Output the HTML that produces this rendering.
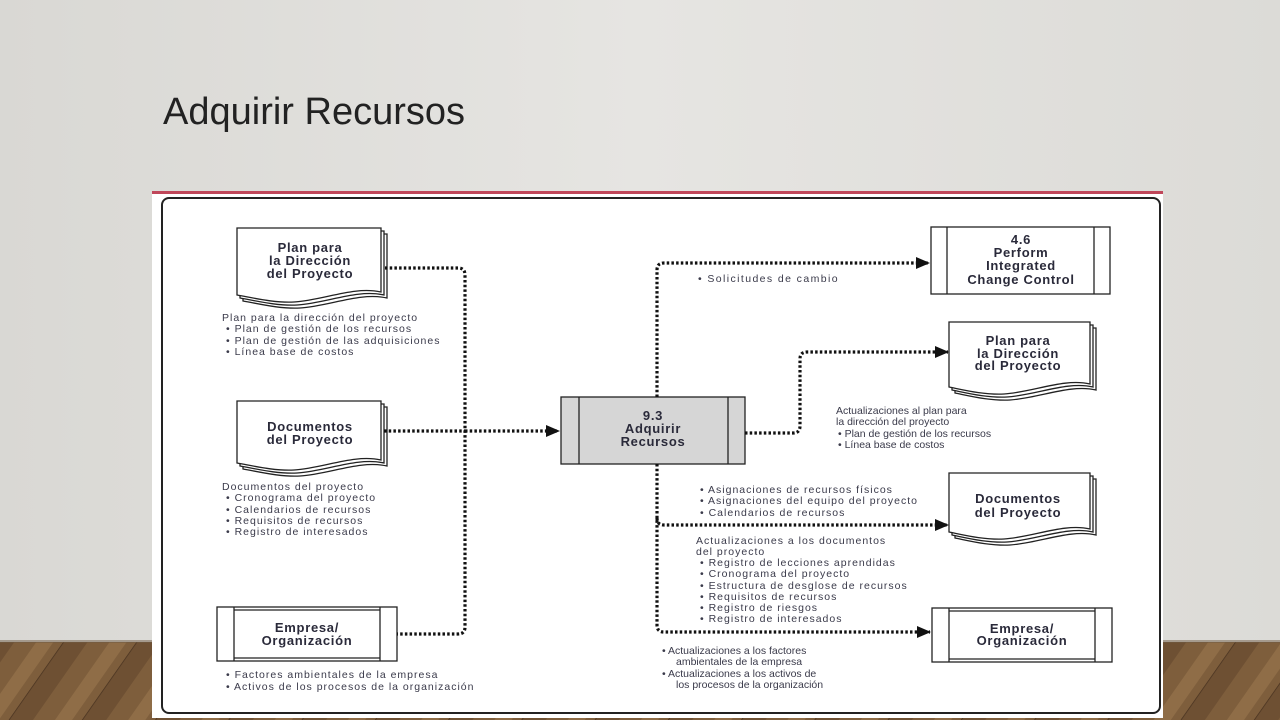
<!DOCTYPE html>
<html><head><meta charset="utf-8"><style>
html,body{margin:0;padding:0;width:1280px;height:720px;overflow:hidden}
body{background:linear-gradient(90deg,#d9d8d4 0%,#e6e5e2 50%,#dcdbd7 100%);font-family:"Liberation Sans",sans-serif}
</style></head><body>
<svg width="1280" height="720" viewBox="0 0 1280 720" xmlns="http://www.w3.org/2000/svg" style="position:absolute;left:0;top:0">
<defs>
<pattern id="wood" width="60" height="80" patternUnits="userSpaceOnUse" patternTransform="rotate(35)">
<rect width="60" height="80" fill="#7e5e3c"/>
<rect x="0" width="20" height="80" fill="#6e5033"/>
<rect x="38" width="14" height="80" fill="#8f6d47"/>
<line x1="0" y1="0" x2="0" y2="80" stroke="#4a3320" stroke-width="1.5"/>
</pattern>
<marker id="ar" markerWidth="14" markerHeight="12" refX="13" refY="6" orient="auto" markerUnits="userSpaceOnUse"><path d="M0,0 L14,6 L0,12 Z" fill="#111"/></marker>
</defs>
<rect x="0" y="642" width="1280" height="78" fill="url(#wood)"/>
<rect x="0" y="640" width="1280" height="3" fill="#6e5a44" opacity=".5"/>
<text x="163" y="124" font-size="38" fill="#222" font-family="Liberation Sans,sans-serif">Adquirir Recursos</text>
<rect x="152" y="192" width="1011" height="526" fill="#fff"/>
<rect x="152" y="191" width="1011" height="3" fill="#c0475a"/>
<rect x="162" y="198" width="998" height="515" rx="7" fill="none" stroke="#222" stroke-width="2"/>

<g stroke="#222" stroke-width="1.3" fill="#fff">
<path d="M243,234 H387 V298 C360,292 330,306 300,308 C280,309 260,304 243,301 Z"/>
<path d="M240,231 H384 V295 C357,289 327,303 297,305 C277,306 257,301 240,298 Z"/>
<path d="M237,228 H381 V292 C354,286 324,300 294,302 C274,303 254,298 237,295 Z"/>
<path d="M243,407 H387 V466 C360,460 330,474 300,476 C280,477 260,472 243,469 Z"/>
<path d="M240,404 H384 V463 C357,457 327,471 297,473 C277,474 257,469 240,466 Z"/>
<path d="M237,401 H381 V460 C354,454 324,468 294,470 C274,471 254,466 237,463 Z"/>
<path d="M955,328 H1096 V390 C1070,384 1040,398 1010,400 C990,401 970,396 955,393 Z"/>
<path d="M952,325 H1093 V387 C1067,381 1037,395 1007,397 C987,398 967,393 952,390 Z"/>
<path d="M949,322 H1090 V384 C1064,378 1034,392 1004,394 C984,395 964,390 949,387 Z"/>
<path d="M955,479 H1096 V535 C1070,529 1040,543 1010,545 C990,546 970,541 955,538 Z"/>
<path d="M952,476 H1093 V532 C1067,526 1037,540 1007,542 C987,543 967,538 952,535 Z"/>
<path d="M949,473 H1090 V529 C1064,523 1034,537 1004,539 C984,540 964,535 949,532 Z"/>
<rect x="217" y="607" width="180" height="54"/>
<line x1="234" y1="607" x2="234" y2="661"/><line x1="380" y1="607" x2="380" y2="661"/>
<line x1="234" y1="610" x2="380" y2="610"/><line x1="234" y1="658" x2="380" y2="658"/>
<rect x="932" y="608" width="180" height="54"/>
<line x1="949" y1="608" x2="949" y2="662"/><line x1="1095" y1="608" x2="1095" y2="662"/>
<line x1="949" y1="611" x2="1095" y2="611"/><line x1="949" y1="659" x2="1095" y2="659"/>
<rect x="931" y="227" width="179" height="67"/>
<line x1="947" y1="227" x2="947" y2="294"/><line x1="1094" y1="227" x2="1094" y2="294"/>
<rect x="561" y="397" width="184" height="67" fill="#d6d6d6"/>
<line x1="579" y1="397" x2="579" y2="464"/><line x1="728" y1="397" x2="728" y2="464"/>
</g>

<g fill="none" stroke="#111" stroke-width="3.2" stroke-dasharray="2.5 2.2">
<path d="M385,268 H458 Q465,268 465,275 V627 Q465,634 458,634 H397"/>
<path d="M384,431 H465"/>
<path d="M465,431 H559" marker-end="url(#ar)"/>
<path d="M657,397 V270 Q657,263 664,263 H929" marker-end="url(#ar)"/>
<path d="M745,433 H793 Q800,433 800,426 V359 Q800,352 807,352 H948" marker-end="url(#ar)"/>
<path d="M657,464 V625 Q657,632 664,632 H930" marker-end="url(#ar)"/>
<path d="M657,518 Q657,525 664,525 H948" marker-end="url(#ar)"/>
</g>

<g font-family="Liberation Sans,sans-serif" font-weight="bold" font-size="13" letter-spacing="0.7" fill="#2a2a3a" text-anchor="middle">
<text x="310" y="252">Plan para</text><text x="310" y="265">la Dirección</text><text x="310" y="278">del Proyecto</text>
<text x="310" y="431">Documentos</text><text x="310" y="444">del Proyecto</text>
<text x="307" y="632">Empresa/</text><text x="307" y="645">Organización</text>
<text x="653" y="420">9.3</text><text x="653" y="433">Adquirir</text><text x="653" y="446">Recursos</text>
<text x="1021" y="244">4.6</text><text x="1021" y="257">Perform</text><text x="1021" y="270">Integrated</text><text x="1021" y="284">Change Control</text>
<text x="1018" y="345">Plan para</text><text x="1018" y="358">la Dirección</text><text x="1018" y="370">del Proyecto</text>
<text x="1018" y="503">Documentos</text><text x="1018" y="517">del Proyecto</text>
<text x="1022" y="633">Empresa/</text><text x="1022" y="645">Organización</text>
</g>

<g font-family="Liberation Sans,sans-serif" font-size="10.5" fill="#3a3a4a">
<g letter-spacing="1">
<text x="222" y="321">Plan para la dirección del proyecto</text>
<text x="226" y="332">•  Plan de gestión de los recursos</text>
<text x="226" y="344">•  Plan de gestión de las adquisiciones</text>
<text x="226" y="355">•  Línea base de costos</text>
<text x="222" y="490">Documentos del proyecto</text>
<text x="226" y="501">•  Cronograma del proyecto</text>
<text x="226" y="513">•  Calendarios de recursos</text>
<text x="226" y="524">•  Requisitos de recursos</text>
<text x="226" y="535">•  Registro de interesados</text>
<text x="226" y="678">•  Factores ambientales de la empresa</text>
<text x="226" y="690">•  Activos de los procesos de la organización</text>
<text x="698" y="282" letter-spacing="1.4">•  Solicitudes de cambio</text>
<text x="700" y="493">•  Asignaciones de recursos físicos</text>
<text x="700" y="504">•  Asignaciones del equipo del proyecto</text>
<text x="700" y="516">•  Calendarios de recursos</text>
<text x="696" y="544">Actualizaciones a los documentos</text>
<text x="696" y="555">del proyecto</text>
<text x="700" y="566">•  Registro de lecciones aprendidas</text>
<text x="700" y="577">•  Cronograma del proyecto</text>
<text x="700" y="589">•  Estructura de desglose de recursos</text>
<text x="700" y="600">•  Requisitos de recursos</text>
<text x="700" y="611">•  Registro de riesgos</text>
<text x="700" y="622">•  Registro de interesados</text>
</g>
<text x="836" y="414">Actualizaciones al plan para</text>
<text x="836" y="425">la dirección del proyecto</text>
<text x="838" y="437">•  Plan de gestión de los recursos</text>
<text x="838" y="448">•  Línea base de costos</text>
<text x="662" y="654">•  Actualizaciones a los factores</text>
<text x="676" y="665">ambientales de la empresa</text>
<text x="662" y="677">•  Actualizaciones a los activos de</text>
<text x="676" y="688">los procesos de la organización</text>
</g>
</svg>
</body></html>
